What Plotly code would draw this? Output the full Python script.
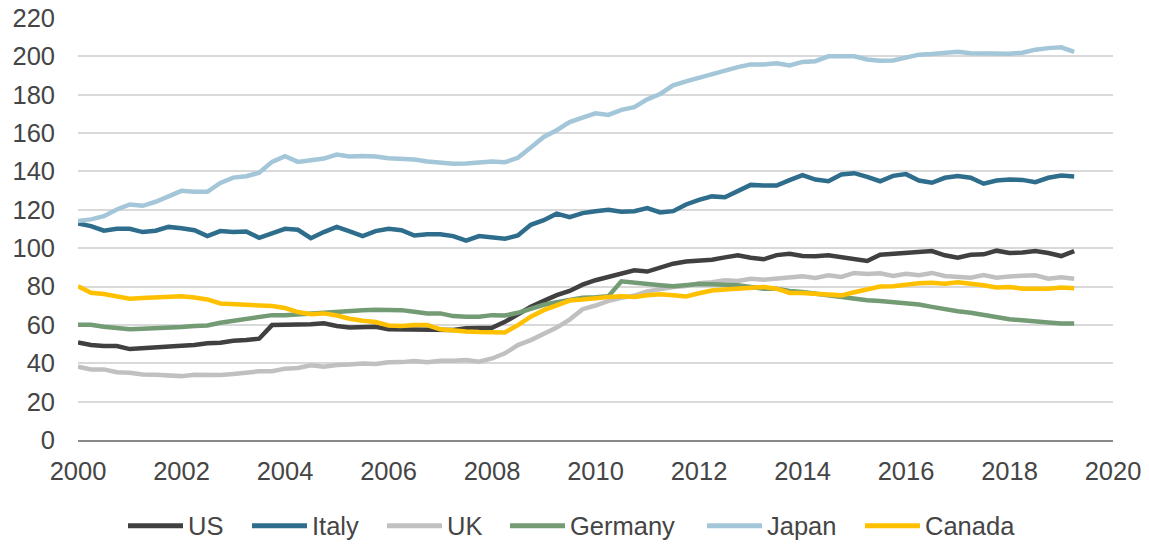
import plotly.graph_objects as go

# quarterly observations, 2000Q1 .. 2019Q2
start_year = 2000
n_quarters = 78

series_names = ["US", "Italy", "UK", "Germany", "Japan", "Canada"]

us = [50.9, 49.5, 49, 49, 47.4, 47.9, 48.6, 48.8, 49.1, 49.5, 50.4, 50.7, 51.7, 52.1, 52.8,
      59.9, 59.9, 59.9, 60.4, 60.8, 59.4, 58.7, 59, 59, 57.7, 57.7, 57.8, 57.8, 57.3, 57.3,
      58.2, 58.5, 58.5, 61.6, 65.6, 69.5, 72.5,
      75.5, 77.7, 81, 83.3, 85, 87.3, 88.5, 87.8, 89.9, 91.9, 93.1, 93.3, 94, 95.2, 96.3,
      95, 94.2, 96.4, 97.1, 95.9, 95.8,
      96.3, 95.4, 94.2, 93.3, 96.6, 97.1, 97.1, 97.8, 98.5, 96.3, 95, 96.6, 96.8, 98.7,
      97.5, 97.7, 98.5, 97.5, 95.9, 98.5]

italy = [112.9, 111.5, 109.1, 110.1, 110.1, 108.4, 109.1, 111.1, 110.4, 109.4, 106.3, 108.9,
         108.5, 108.7, 105.4, 108, 110.1, 109.6, 105.2, 108.4, 111.1, 108.7, 106.3, 108.9,
         110.1, 109.4, 106.6, 107.3, 107.3, 106.3, 103.9, 106.3, 105.6, 104.9, 106.6, 112.2, 114.6,
         118, 116.2, 118.3, 119.3, 120, 119, 119.3, 120.9, 118.6, 119.3, 122.8, 125.2, 127,
         126.6, 129.9, 133, 132.7, 132.7, 135.5, 138.1, 135.8,
         134.9, 138.4, 139.1, 137.2, 134.9, 137.7, 138.6, 135.3, 134.1, 136.7, 137.6, 136.7,
         133.6, 135.3, 135.8, 135.6, 134.4, 136.7, 137.9, 137.4]

uk = [38.2, 36.8, 36.8, 35.3, 35.1, 34.2, 34, 33.9, 33.3, 34, 33.7, 33.9, 34.4, 35.1, 35.8,
      35.9, 37.2, 37.5, 38.9, 38.2, 39.1, 39.4, 39.9, 39.6, 40.5, 40.6, 41.2, 40.5, 41.3, 41.3,
      41.7, 40.8, 42.5, 45.2, 49.5, 52.1, 55.6,
      58.6, 62.8, 68.2, 70.1, 72.5, 74.1, 75.3, 77.5, 78.9, 79.8, 80.3, 81.7, 82.2, 83.3, 82.9,
      84, 83.6, 84.3, 84.6, 85.3, 84.5,
      85.9, 85, 87.1, 86.6, 86.9, 85.5, 86.7, 85.9, 87.1, 85.5, 85, 84.6, 86, 84.6, 85.3,
      85.5, 85.9, 84.1, 84.8, 84.1]

germany = [60.1, 60.1, 59, 58.2, 57.7, 58, 58.2, 58.7, 58.9, 59.4, 59.7, 61.1, 62, 62.9, 63.7,
           65.1, 65.1, 65.6, 66, 66.5, 67, 67.6, 67.7, 67.9, 67.7, 67.7, 66.9, 66, 66, 64.6,
           64.3, 64.3, 65.1, 64.9, 66.3, 68.5, 70.5,
           71.8, 73.2, 74.1, 74.4, 75, 82.7, 81.9, 81.2, 80.7, 80.1, 80.7, 81.3, 81.2, 81, 80.7,
           79.8, 78.9, 78.8, 77.7, 77.2, 76.3,
           75.4, 74.6, 73.4, 72.9, 72.5, 72, 71.5, 70.6, 69.4, 68, 67.1, 66.3, 65.2, 63.8, 63,
           62.4, 61.6, 61.2, 60.7, 60.7]

japan = [114.1, 115, 116.7, 120.2, 122.8, 122.1, 124.2, 127.1, 129.9, 129.4, 129.4, 134, 136.8,
         137.5, 139.3, 145, 148, 145, 145.9, 146.7, 148.8, 147.8, 148.1, 147.8, 146.9, 146.7,
         146.2, 145.2, 144.5, 144, 144.1, 144.5, 145.2, 144.8, 147.1, 152.5, 158,
         161.5, 165.7, 168.1, 170.3, 169.5, 172.1, 173.5, 177.6, 180.4, 184.9, 187, 188.9, 190.6,
         192.4, 194.4, 195.8, 195.7, 196.4, 195.3, 197.1, 197.5,
         200, 200.2, 200, 198.4, 197.7, 197.9, 199.5, 200.9, 201.2, 201.7, 202.4, 201.6, 201.4,
         201.2, 201.4, 201.9, 203.5, 204.3, 204.7, 202.4]

canada = [80.2, 76.8, 76.1, 75, 73.6, 74, 74.5, 74.7, 75, 74.3, 73.3, 71.2, 70.9, 70.2, 69.8,
          69.8, 68.8, 66.7, 65.6, 66, 64.9, 63.2, 62.2, 61.5, 59.7, 59.4, 59.9, 59.9, 57.7, 57,
          56.6, 56.3, 56.3, 56.1, 59.9, 64.3, 67.7,
          70.4, 72.7, 73.2, 74.1, 74.6, 75, 74.6, 75.5, 76, 75.5, 74.8, 76.5, 77.9, 78.4, 78.9,
          79.8, 79.8, 78.9, 76.7, 76.7, 76.3,
          75.4, 75.4, 77, 78.7, 80, 80.1, 81, 81.7, 82, 81.5, 82.2, 81.7, 80.7, 79.5, 79.8,
          78.9, 78.9, 78.9, 79.5, 79.1]

colors = ["#404040", "#2E6E8C", "#C0C0C0", "#739B74", "#A3C6D8", "#FFC000"]

x_ticks = list(range(2000, 2021, 2))
y_ticks = list(range(0, 221, 20))

quarters = [start_year + q / 4 for q in range(n_quarters)]
values = [us, italy, uk, germany, japan, canada]

fig = go.Figure()
for name, ys, col in zip(series_names, values, colors):
    fig.add_trace(go.Scatter(
        x=quarters, y=ys, name=name, mode="lines",
        line=dict(color=col, width=4.5),
        showlegend=False,
    ))

font_family = "Liberation Sans, Arial, sans-serif"
text_color = "#454545"

fig.update_layout(
    width=1149,
    height=546,
    margin=dict(l=78, r=36, t=18, b=106),
    paper_bgcolor="white",
    plot_bgcolor="white",
    font=dict(family=font_family, size=25.5, color=text_color),
)

fig.update_xaxes(
    range=[2000, 2020],
    tickmode="array",
    tickvals=x_ticks,
    ticktext=[str(t) for t in x_ticks],
    showgrid=False,
    zeroline=False,
    showline=True,
    linecolor="#888888",
    linewidth=2,
    ticks="",
    ticklabelstandoff=7,
    automargin=False,
)

fig.update_yaxes(
    range=[0, 220],
    tickmode="array",
    tickvals=y_ticks,
    showgrid=True,
    gridcolor="#D9D9D9",
    gridwidth=1.5,
    zeroline=False,
    showline=False,
    ticks="",
    ticklabelstandoff=22,
    automargin=False,
)

# legend drawn by hand so the line samples match the long Excel-style keys
legend_px = [128, 252, 387, 510, 707, 865]
plot_left, plot_width = 78, 1035
legend_y = -0.203
for name, col, px in zip(series_names, colors, legend_px):
    x0 = (px - plot_left) / plot_width
    x1 = (px + 55 - plot_left) / plot_width
    fig.add_shape(type="line", xref="paper", yref="paper",
                  x0=x0, x1=x1, y0=legend_y, y1=legend_y,
                  line=dict(color=col, width=5))
    fig.add_annotation(xref="paper", yref="paper",
                       x=(px + 58 - plot_left) / plot_width, y=legend_y,
                       text=name, showarrow=False,
                       xanchor="left", yanchor="middle",
                       font=dict(family=font_family, size=25.5, color=text_color))

# page body has a default 8px margin; drop it so the figure sits at the window origin
fig.write_html("out.html", config={"displayModeBar": False},
               post_script="document.body.style.margin='0';")
